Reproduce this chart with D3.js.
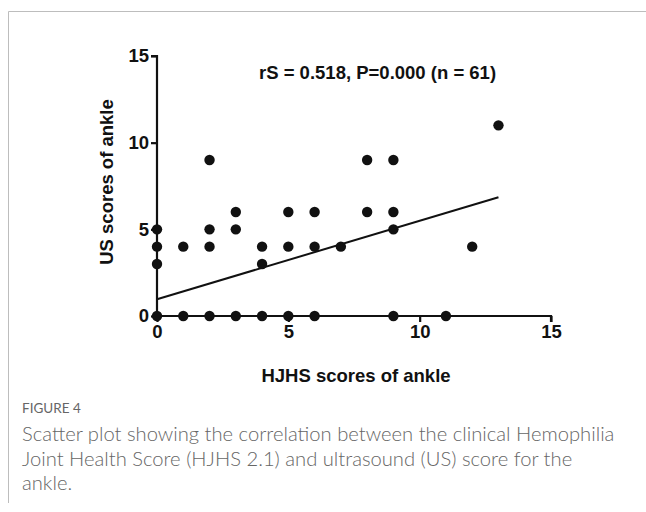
<!DOCTYPE html>
<html>
<head>
<meta charset="utf-8">
<script src="https://cdn.jsdelivr.net/npm/d3@7"></script>
<style>
  body { margin: 0; background: #fff; }
  .ax { font-family: "Liberation Sans", Arial, Helvetica, sans-serif; font-weight: bold; }
  .cap { font-family: Lato, "Open Sans", sans-serif; }
</style>
</head>
<body>
<div id="chart"></div>
<script>
// HJHS (x) vs US (y) scores of ankle
const hjhs = [0,0,0,0, 1,1, 2,2,2,2, 3,3,3, 4,4,4, 5,5,5, 6,6,6, 7, 8,8, 9,9,9,9, 11, 12, 13];
const usScore = [0,3,4,5, 0,4, 0,4,5,9, 0,5,6, 0,3,4, 0,4,6, 0,4,6, 4, 6,9, 0,5,6,9, 0, 4, 11];
const fitX = [0, 13];
const fitY = [0.97, 6.85];
const xTicks = [0, 5, 10, 15];
const yTicks = [0, 5, 10, 15];
const statText = "rS = 0.518, P=0.000 (n = 61)";
const captionLines = [
  "Scatter plot showing the correlation between the clinical Hemophilia",
  "Joint Health Score (HJHS 2.1) and ultrasound (US) score for the",
  "ankle."
];

const W = 646, H = 512;
const plot = {left: 157, right: 551, top: 56, bottom: 316};

let svg = d3.select("#chart").append("svg")
    .attr("width", W).attr("height", H);

// figure frame (left + top border)
svg.append("path")
    .attr("d", "M8.5,503 V11.5 H646")
    .attr("fill", "none")
    .attr("stroke", "#bdbdbd")
    .attr("stroke-width", 1);

let x = d3.scaleLinear().domain([0, 15]).range([plot.left, plot.right]);
let y = d3.scaleLinear().domain([0, 15]).range([plot.bottom, plot.top]);

let xAxis = svg.append("g")
    .attr("transform", "translate(0," + plot.bottom + ")")
    .call(d3.axisBottom(x).tickValues(xTicks).tickSize(6).tickPadding(3));
let yAxis = svg.append("g")
    .attr("transform", "translate(" + plot.left + ",0)")
    .call(d3.axisLeft(y).tickValues(yTicks).tickSize(6).tickPadding(2));

[xAxis, yAxis].forEach(function(a){
    a.attr("font-family", null).attr("font-size", null);
    a.select(".domain").attr("stroke", "#111").attr("stroke-width", 2.2)
    a.selectAll(".tick line").attr("stroke", "#111").attr("stroke-width", 2.2);
    a.selectAll(".tick text")
        .attr("class", "ax")
        .attr("fill", "#111")
        .style("font-size", "18.5px");
});
// plain domain lines
xAxis.select(".domain").attr("d", "M" + plot.left + ",0H" + plot.right + "V6");
yAxis.select(".domain").attr("d", "M-6," + plot.top + "H0V" + (plot.bottom + 1));

// regression line
svg.append("line")
    .attr("x1", x(fitX[0])).attr("y1", y(fitY[0]))
    .attr("x2", x(fitX[1])).attr("y2", y(fitY[1]))
    .attr("stroke", "#111")
    .attr("stroke-width", 2);

// points
svg.selectAll("circle.pt")
    .data(hjhs)
    .enter()
    .append("circle")
    .attr("class", "pt")
    .attr("cx", function(d){ return x(d); })
    .attr("cy", function(d, i){ return y(usScore[i]); })
    .attr("r", 5.2)
    .attr("fill", "#111");

// stats annotation
svg.append("text")
    .attr("class", "ax")
    .text(statText)
    .attr("x", 259).attr("y", 79)
    .style("font-size", "18.5px")
    .attr("fill", "#111");

// axis titles
svg.append("text")
    .attr("class", "ax")
    .text("HJHS scores of ankle")
    .attr("x", 356).attr("y", 382)
    .attr("text-anchor", "middle")
    .style("font-size", "18.5px")
    .attr("fill", "#111");

svg.append("text")
    .attr("class", "ax")
    .text("US scores of ankle")
    .attr("transform", "translate(113,182) rotate(-90)")
    .attr("text-anchor", "middle")
    .style("font-size", "18.5px")
    .attr("fill", "#111");

// caption
svg.append("text")
    .attr("class", "cap")
    .text("FIGURE 4")
    .attr("x", 22).attr("y", 413)
    .style("font-size", "13.5px")
    .attr("fill", "#666");

svg.selectAll("text.capline")
    .data(captionLines)
    .enter()
    .append("text")
    .attr("class", "cap capline")
    .text(function(d){ return d; })
    .attr("x", 22)
    .attr("y", function(d, i){ return 441 + i * 24.5; })
    .style("font-weight", 300)
    .style("font-size", "20.2px")
    .attr("fill", "#666");
</script>
</body>
</html>
